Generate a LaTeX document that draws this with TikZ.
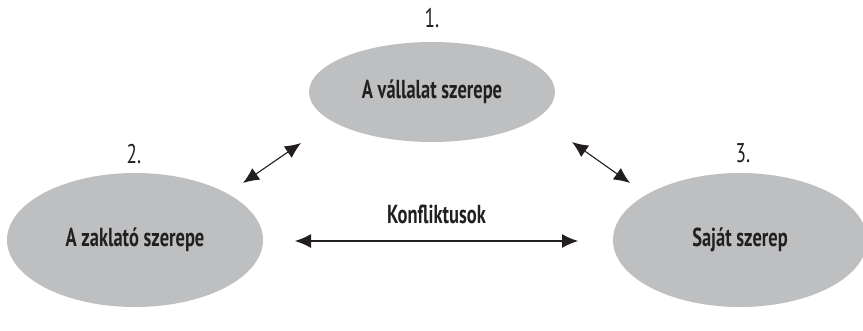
\documentclass[tikz,border=0pt]{standalone}
\usepackage{fontspec}
\usepackage{tikz}
\usepackage{xcolor}
\usetikzlibrary{shapes.geometric,arrows.meta}
\newfontfamily\condfont{PT Sans}[FakeStretch=0.71]
\definecolor{role-gray}{RGB}{190,191,193}
\definecolor{ink}{RGB}{35,31,32}
\tikzset{
    role-ellipse/.style = {ellipse, fill=role-gray, draw=none, inner sep=0pt, text=ink, font=\condfont\bfseries\fontsize{26}{28}\selectfont},
    role-number/.style = {text=ink, font=\condfont\fontsize{27}{29}\selectfont},
    conflict-arrow/.style = {{Latex[length=16pt,width=14pt]}-{Latex[length=16pt,width=14pt]}, draw=ink, fill=ink, line width=1.1pt},
}

\begin{document}
\begin{tikzpicture}[x=1pt,y=-1pt]
\useasboundingbox (0,0) rectangle (863,330);
\node [role-ellipse, minimum width=246pt, minimum height=100pt] (company) at (432,92) {A vállalat szerepe};
\node [role-ellipse, minimum width=256pt, minimum height=134pt] (harasser) at (135,240) {A zaklató szerepe};
\node [role-ellipse, minimum width=254pt, minimum height=134pt] (own) at (740,240) {Saját szerep};
\node [role-number] (num-company) at (432,18) {1.};
\node [role-number] (num-harasser) at (134,154) {2.};
\node [role-number] (num-own) at (743,153) {3.};
\coordinate (lt-a) at (243,183);
\coordinate (lt-b) at (301,143);
\coordinate (rt-a) at (572,142);
\coordinate (rt-b) at (630,183);
\coordinate (mid-a) at (295,241);
\coordinate (mid-b) at (578,241);
\draw [conflict-arrow] (lt-a) -- (lt-b);
\draw [conflict-arrow] (rt-a) -- (rt-b);
\draw [conflict-arrow] (mid-a) -- node[above=13pt, text=ink, font=\condfont\bfseries\fontsize{26}{28}\selectfont] (conflicts) {Konfliktusok} (mid-b);
\end{tikzpicture}
\end{document}
